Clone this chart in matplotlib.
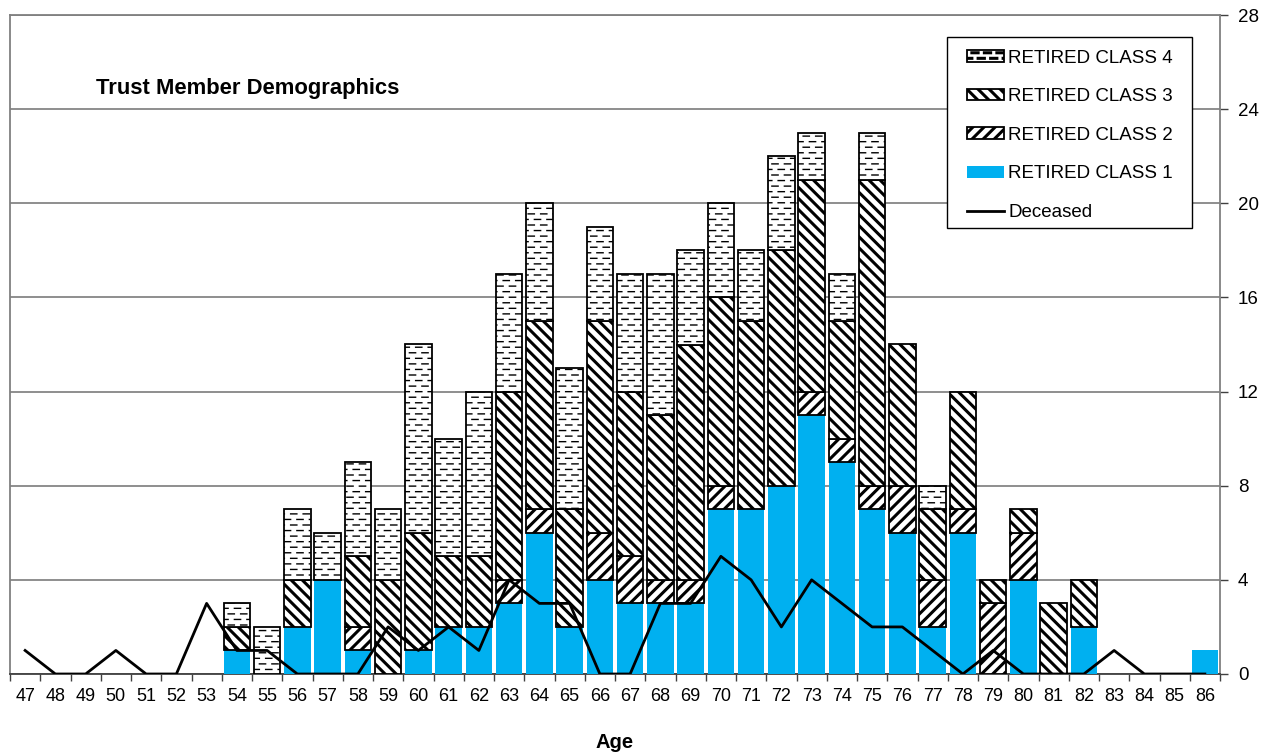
import numpy as np
import matplotlib
matplotlib.use("Agg")
import matplotlib.pyplot as plt
import matplotlib.hatch as mhatch
import matplotlib.patches as mpatches
from matplotlib.path import Path

# ---- data -------------------------------------------------------------
ages = list(range(47, 87))
retired_class1 = [0, 0, 0, 0, 0, 0, 0, 1, 0, 2, 4, 1, 0, 1, 2, 2, 3, 6, 2, 4,
                  3, 3, 3, 7, 7, 8, 11, 9, 7, 6, 2, 6, 0, 4, 0, 2, 0, 0, 0, 1]
retired_class2 = [0, 0, 0, 0, 0, 0, 0, 0, 0, 0, 0, 1, 0, 0, 0, 0, 1, 1, 0, 2,
                  2, 1, 1, 1, 0, 0, 1, 1, 1, 2, 2, 1, 3, 2, 0, 0, 0, 0, 0, 0]
retired_class3 = [0, 0, 0, 0, 0, 0, 0, 1, 0, 2, 0, 3, 4, 5, 3, 3, 8, 8, 5, 9,
                  7, 7, 10, 8, 8, 10, 9, 5, 13, 6, 3, 5, 1, 1, 3, 2, 0, 0, 0, 0]
retired_class4 = [0, 0, 0, 0, 0, 0, 0, 1, 2, 3, 2, 4, 3, 8, 5, 7, 5, 5, 6, 4,
                  5, 6, 4, 4, 3, 4, 2, 2, 2, 0, 1, 0, 0, 0, 0, 0, 0, 0, 0, 0]
deceased = [1, 0, 0, 1, 0, 0, 3, 1, 1, 0, 0, 0, 2, 1, 2, 1, 4, 3, 3, 0,
            0, 3, 3, 5, 4, 2, 4, 3, 2, 2, 1, 0, 1, 0, 0, 0, 1, 0, 0, 0]
y_ticks = [0, 4, 8, 12, 16, 20, 24, 28]

series_labels = ["RETIRED CLASS 1", "RETIRED CLASS 2",
                 "RETIRED CLASS 3", "RETIRED CLASS 4"]

BACKSLASH = chr(92)


# ---- staggered dash hatch used for the '-' character ---------------------
class StaggeredDashHatch(mhatch.HatchPatternBase):
    dashes_per_row = 8

    def __init__(self, hatch, density):
        rows = (hatch.count('-') + hatch.count('+')) * density
        period = 1.0 / self.dashes_per_row
        half = period * 0.25
        segs = []
        for r in range(rows):
            y = (r + 0.5) / rows
            shift = 0.5 * period if r % 2 else 0.0
            for d in range(self.dashes_per_row + 1):
                c = d * period + shift
                x0, x1 = max(c - half, 0.0), min(c + half, 1.0)
                if x1 > x0:
                    segs.append((x0, x1, y))
        self.segs = segs
        self.num_vertices = 2 * len(segs)

    def set_vertices_and_codes(self, vertices, codes):
        for i, (x0, x1, y) in enumerate(self.segs):
            vertices[2 * i] = (x0, y)
            vertices[2 * i + 1] = (x1, y)
            codes[2 * i] = Path.MOVETO
            codes[2 * i + 1] = Path.LINETO


mhatch._hatch_types = [StaggeredDashHatch if t is mhatch.HorizontalHatch else t
                       for t in mhatch._hatch_types]

# ---- figure -----------------------------------------------------------
plt.rcParams['font.family'] = ['Liberation Sans', 'DejaVu Sans']
plt.rcParams['hatch.linewidth'] = 2.2
plt.rcParams['hatch.color'] = 'black'

W, H = 1270, 755
fig = plt.figure(figsize=(W / 100, H / 100), dpi=100)
ax = fig.add_axes([10 / W, 1 - 674 / H, 1210 / W, 659 / H])

x = np.arange(len(ages))
width = 0.88
blue = '#00B0F0'

styles = [
    dict(facecolor=blue, edgecolor='none', hatch=None, linewidth=0),
    dict(facecolor='white', edgecolor='black', hatch='///', linewidth=1.3),
    dict(facecolor='white', edgecolor='black', hatch=BACKSLASH * 3, linewidth=1.3),
    dict(facecolor='white', edgecolor='black', hatch='---', linewidth=1.3),
]
hatch_widths = [2.2, 2.2, 2.2, 1.0]
values = [retired_class1, retired_class2, retired_class3, retired_class4]


def apply_hatch_width(patch, lw):
    if hasattr(patch, 'set_hatch_linewidth'):
        patch.set_hatch_linewidth(lw)


bottom = np.zeros(len(ages))
proxies = []
for vals, st, hw, lab in zip(values, styles, hatch_widths, series_labels):
    vals = np.asarray(vals, dtype=float)
    shown = vals > 0
    bc = ax.bar(x[shown], vals[shown], width, bottom=bottom[shown], zorder=3, **st)
    for p in bc.patches:
        apply_hatch_width(p, hw)
    proxy = mpatches.Patch(label=lab, **st)
    apply_hatch_width(proxy, hw)
    proxies.append(proxy)
    bottom = bottom + vals

line, = ax.plot(x, deceased, color='black', linewidth=2.0, zorder=5,
                label='Deceased')

# ---- axes styling -------------------------------------------------------
ax.set_xlim(-0.5, len(ages) - 0.5)
ax.set_ylim(0, 28)

ax.set_xticks(x)
ax.set_xticklabels([str(a) for a in ages], fontsize=13)
ax.set_xticks(np.arange(-0.5, len(ages), 1.0), minor=True)
ax.tick_params(axis='x', which='major', length=0, pad=10)
ax.tick_params(axis='x', which='minor', length=5, width=1.0, color='#404040',
               direction='out')

ax.yaxis.tick_right()
ax.set_yticks(y_ticks)
ax.set_yticklabels([str(v) for v in y_ticks], fontsize=13.5)
ax.tick_params(axis='y', length=6, width=1.0, color='#404040', pad=7,
               direction='out')
ax.yaxis.grid(True, color='#707070', linewidth=1.1, zorder=0)
ax.set_axisbelow(True)

for side in ['left', 'right', 'top']:
    ax.spines[side].set_color('#808080')
    ax.spines[side].set_linewidth(1.3)
ax.spines['bottom'].set_color('#404040')
ax.spines['bottom'].set_linewidth(1.3)

ax.set_xlabel('Age', fontsize=14.5, fontweight='bold', labelpad=20)
ax.text(0.071, 0.889, 'Trust Member Demographics', transform=ax.transAxes,
        fontsize=15.8, fontweight='bold', ha='left', va='center')

# ---- legend: entries plus a separate box around them --------------------
legend_box = mpatches.Rectangle((0.7744, 0.6768), 0.9769 - 0.7744,
                                0.9666 - 0.6768, transform=ax.transAxes,
                                facecolor='white', edgecolor='black',
                                linewidth=1.0, zorder=9)
ax.add_patch(legend_box)

handles = [proxies[3], proxies[2], proxies[1], proxies[0], line]
labels = [series_labels[3], series_labels[2], series_labels[1],
          series_labels[0], 'Deceased']
leg = ax.legend(handles, labels, loc='upper left',
                bbox_to_anchor=(0.7909, 0.9476), borderaxespad=0, borderpad=0,
                fontsize=13.5, frameon=False,
                handlelength=2.0, handleheight=0.6, handletextpad=0.2,
                labelspacing=1.15)
leg.set_zorder(10)

fig.savefig('out.png', dpi=100)
